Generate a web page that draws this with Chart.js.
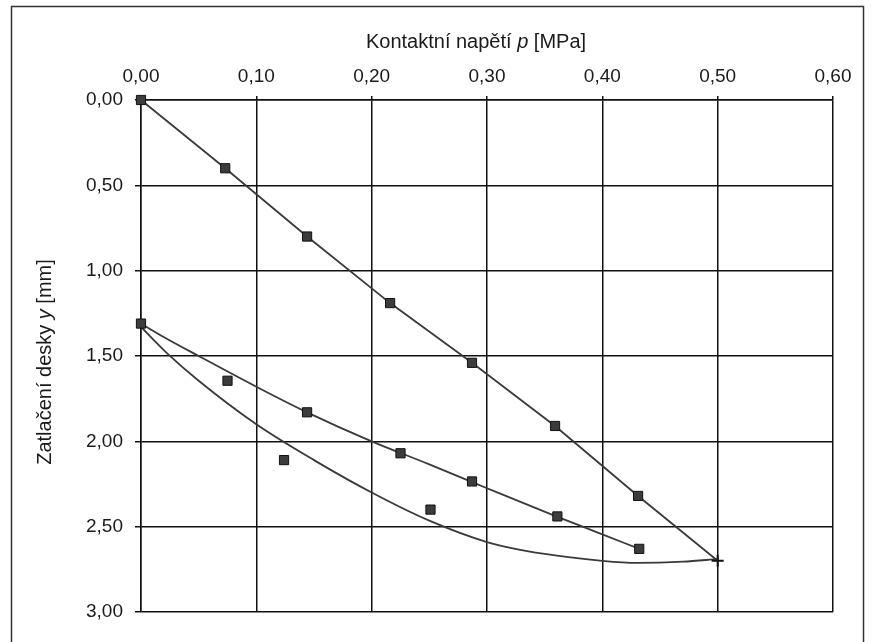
<!DOCTYPE html>
<html>
<head>
<meta charset="utf-8">
<script src="https://cdn.jsdelivr.net/npm/chart.js@4"></script>
<style>
  html, body { margin: 0; padding: 0; background: #fff; }
  #wrap { width: 871px; height: 642px; }
</style>
</head>
<body>
<div id="wrap"><canvas id="chart" width="871" height="642"></canvas></div>
<script>
// --------------------------------------------------
// Data (p in MPa, y in mm)
// --------------------------------------------------
const xTicks = [0, 0.1, 0.2, 0.3, 0.4, 0.5, 0.6];
const yTicks = [0, 0.5, 1.0, 1.5, 2.0, 2.5, 3.0];

// loading branch
const loadP = [0, 0.073, 0.144, 0.216, 0.287, 0.359, 0.431, 0.50];
const loadY = [0, 0.40, 0.80, 1.19, 1.54, 1.91, 2.32, 2.70];

// unloading branch (markers)
const unloadP = [0, 0.075, 0.144, 0.225, 0.287, 0.361, 0.432];
const unloadY = [1.31, 1.645, 1.83, 2.07, 2.235, 2.44, 2.63];

// reloading branch (markers)
const reloadP = [0.124, 0.251];
const reloadY = [2.11, 2.40];

// trend curves as drawn in the picture
const unloadFitP = [0, 0.02, 0.05, 0.10, 0.144, 0.20, 0.25, 0.30, 0.36, 0.40, 0.432];
const unloadFitY = [1.31, 1.39, 1.50, 1.68, 1.83, 2.00, 2.135, 2.275, 2.44, 2.545, 2.63];

const reloadFitP = [0, 0.022, 0.05, 0.10, 0.15, 0.20, 0.25, 0.30, 0.35, 0.40, 0.43, 0.47, 0.50];
const reloadFitY = [1.33, 1.48, 1.645, 1.90, 2.11, 2.30, 2.465, 2.59, 2.66, 2.70, 2.712, 2.705, 2.69];

const FONT = "'Liberation Sans', Arial, sans-serif";
const INK = "#1a1a1a";

function pts(xs, ys) {
  return xs.map((x, i) => ({ x, y: ys[i] }));
}

function fmt(v) {
  return Number(v).toFixed(2).replace(".", ",");
}

// frame + axis titles (with italic variable names)
const decor = {
  id: "decor",
  beforeDraw(chart) {
    const c = chart.ctx;
    c.save();
    c.fillStyle = "#fff";
    c.fillRect(0, 0, chart.width, chart.height);
    c.strokeStyle = "#333";
    c.lineWidth = 1.5;
    c.strokeRect(11.5, 6.5, 852, 700);
    c.restore();
  },
  afterDraw(chart) {
    const c = chart.ctx;
    c.save();
    c.fillStyle = INK;
    c.textBaseline = "middle";

    drawMixed(c, [["Kontaktní napětí ", ""], ["p", "italic "], [" [MPa]", ""]], 476, 42);

    c.translate(45, 362);
    c.rotate(-Math.PI / 2);
    drawMixed(c, [["Zatlačení desky ", ""], ["y", "italic "], [" [mm]", ""]], 0, 0);
    c.restore();
  },
};

function drawMixed(c, parts, cx, cy) {
  let total = 0;
  parts.forEach(([t, st]) => {
    c.font = st + "20px " + FONT;
    total += c.measureText(t).width;
  });
  let x = cx - total / 2;
  c.textAlign = "left";
  parts.forEach(([t, st]) => {
    c.font = st + "20px " + FONT;
    c.fillText(t, x, cy);
    x += c.measureText(t).width;
  });
}

const markerStyle = {
  pointStyle: "rect",
  pointRadius: 6.5,
  pointBackgroundColor: "#3c3c3c",
  pointBorderColor: "#111",
  pointBorderWidth: 1,
  clip: false,
};

new Chart(document.getElementById("chart"), {
  type: "scatter",
  data: {
    datasets: [
      {
        label: "Zatěžování",
        data: pts(loadP, loadY),
        showLine: true,
        borderColor: "#3a3a3a",
        borderWidth: 1.8,
        tension: 0,
        ...markerStyle,
        pointStyle: loadP.map((_, i) => (i === loadP.length - 1 ? "cross" : "rect")),
        pointRadius: loadP.map((_, i) => (i === loadP.length - 1 ? 6 : 6.5)),
        pointBorderWidth: loadP.map((_, i) => (i === loadP.length - 1 ? 2 : 1)),
      },
      {
        label: "Odlehčení",
        data: pts(unloadP, unloadY),
        showLine: false,
        ...markerStyle,
      },
      {
        label: "Odlehčení - trend",
        data: pts(unloadFitP, unloadFitY),
        showLine: true,
        borderColor: "#3a3a3a",
        borderWidth: 1.8,
        pointRadius: 0,
        cubicInterpolationMode: "monotone",
      },
      {
        label: "Opětovné zatížení",
        data: pts(reloadP, reloadY),
        showLine: false,
        ...markerStyle,
      },
      {
        label: "Opětovné zatížení - trend",
        data: pts(reloadFitP, reloadFitY),
        showLine: true,
        borderColor: "#3a3a3a",
        borderWidth: 1.8,
        pointRadius: 0,
        cubicInterpolationMode: "monotone",
      },
    ],
  },
  options: {
    responsive: false,
    animation: false,
    layout: { padding: { left: 0, top: 0, right: 38, bottom: 30 } },
    plugins: {
      legend: { display: false },
      tooltip: { enabled: false },
    },
    scales: {
      x: {
        type: "linear",
        position: "top",
        min: 0,
        max: 0.6,
        afterFit: (s) => { s.height = 100; },
        afterBuildTicks: (s) => { s.ticks = xTicks.map((v) => ({ value: v })); },
        ticks: {
          callback: (v) => fmt(v),
          color: INK,
          font: { family: FONT, size: 19 },
          padding: 8,
          maxRotation: 0,
        },
        grid: { color: "#111", lineWidth: 1.5, tickLength: 4 },
        border: { color: "#111", width: 1.5 },
      },
      y: {
        type: "linear",
        reverse: true,
        min: 0,
        max: 3,
        afterFit: (s) => { s.width = 141; },
        afterBuildTicks: (s) => { s.ticks = yTicks.map((v) => ({ value: v })); },
        ticks: {
          callback: (v) => fmt(v),
          color: INK,
          font: { family: FONT, size: 19 },
          padding: 12,
        },
        grid: { color: "#111", lineWidth: 1.5, tickLength: 6 },
        border: { color: "#111", width: 1.5 },
      },
    },
  },
  plugins: [decor],
});
</script>
</body>
</html>
